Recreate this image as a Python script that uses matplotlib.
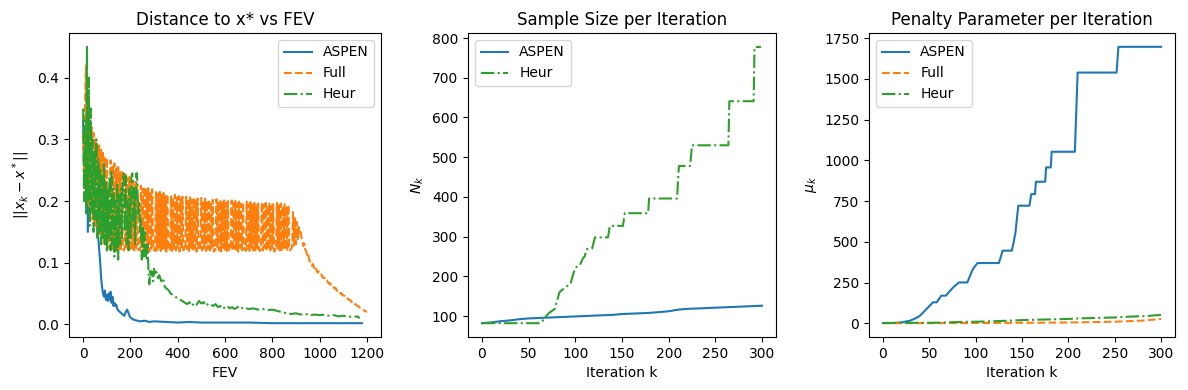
import numpy as np
import matplotlib
matplotlib.use("Agg")
import matplotlib.pyplot as plt

# ---------------- Panel 1 data: distance to x* vs FEV ----------------
# Full: one value per iteration (4 FEV per iteration)
full_dist = [
    0.31, 0.22, 0.36, 0.42, 0.21, 0.37, 0.19, 0.34, 0.18, 0.32, 0.17, 0.31, 0.16,
    # oscillation blocks
    0.300, 0.160, 0.292, 0.148, 0.290, 0.143, 0.283, 0.138, 0.280, 0.131, 0.272, 0.128, 0.270, 0.124, 0.126, 0.123,
    0.266, 0.124, 0.259, 0.121, 0.261, 0.125, 0.253, 0.119, 0.255, 0.122, 0.247, 0.120, 0.249, 0.123, 0.120, 0.124,
    0.243, 0.121, 0.238, 0.125, 0.239, 0.119, 0.232, 0.123, 0.233, 0.120, 0.226, 0.124, 0.228, 0.121, 0.123, 0.120,
    0.225, 0.123, 0.220, 0.119, 0.223, 0.124, 0.218, 0.121, 0.221, 0.118, 0.216, 0.123, 0.219, 0.120, 0.122, 0.119,
    0.216, 0.120, 0.212, 0.124, 0.215, 0.119, 0.210, 0.123, 0.213, 0.121, 0.208, 0.118, 0.211, 0.124, 0.119, 0.122,
    0.209, 0.119, 0.206, 0.123, 0.210, 0.120, 0.205, 0.124, 0.208, 0.118, 0.204, 0.122, 0.207, 0.120, 0.124, 0.121,
    0.207, 0.122, 0.203, 0.119, 0.206, 0.124, 0.202, 0.120, 0.205, 0.123, 0.201, 0.118, 0.204, 0.122, 0.120, 0.123,
    0.205, 0.120, 0.201, 0.124, 0.204, 0.119, 0.200, 0.122, 0.203, 0.120, 0.199, 0.124, 0.202, 0.118, 0.123, 0.120,
    0.203, 0.123, 0.199, 0.120, 0.202, 0.118, 0.198, 0.124, 0.201, 0.121, 0.197, 0.119, 0.200, 0.123, 0.119, 0.122,
    0.201, 0.119, 0.197, 0.123, 0.200, 0.121, 0.196, 0.118, 0.199, 0.124, 0.195, 0.120, 0.198, 0.122, 0.124, 0.119,
    0.199, 0.122, 0.195, 0.119, 0.198, 0.124, 0.194, 0.120, 0.197, 0.118, 0.193, 0.123, 0.196, 0.121, 0.119, 0.123,
    0.198, 0.120, 0.194, 0.124, 0.197, 0.119, 0.193, 0.122, 0.196, 0.120, 0.192, 0.124, 0.195, 0.118, 0.122, 0.120,
    0.197, 0.123, 0.193, 0.120, 0.196, 0.118, 0.192, 0.124, 0.195, 0.121, 0.191, 0.119, 0.194, 0.122, 0.120, 0.123,
    # decline
    0.125, 0.182, 0.128, 0.172, 0.130, 0.166, 0.138, 0.158, 0.146, 0.150,
    0.140, 0.135, 0.127, 0.131, 0.121, 0.118, 0.111, 0.114, 0.105, 0.102,
    0.100, 0.095, 0.098, 0.093, 0.089, 0.092, 0.087, 0.084, 0.086, 0.082,
    0.080, 0.081, 0.077, 0.075, 0.076, 0.072, 0.070, 0.071, 0.068, 0.066,
    0.067, 0.064, 0.062, 0.063, 0.060, 0.058, 0.059, 0.056, 0.054, 0.055,
    0.052, 0.050, 0.051, 0.048, 0.047, 0.047, 0.045, 0.043, 0.044, 0.041,
    0.040, 0.040, 0.038, 0.036, 0.037, 0.034, 0.033, 0.033, 0.031, 0.030,
    0.030, 0.028, 0.027, 0.027, 0.025, 0.024, 0.023, 0.022, 0.021, 0.020,
]
full_fev_per_iter = 4

aspen_fev = [0, 4, 8, 12, 16, 20, 24, 28, 32, 36, 40, 44, 48, 52, 56, 60, 64, 68, 72, 76,
             80, 84, 88, 92, 96, 100, 104, 108, 112, 116, 120, 124, 128, 132, 136, 140, 144,
             150, 156, 162, 168, 174, 180, 186, 192, 198, 204, 212, 220, 230, 240, 260, 280,
             300, 350, 400, 450, 500, 600, 700, 800, 900, 1000, 1100, 1180]
aspen_dist = [0.33, 0.25, 0.30, 0.20, 0.28, 0.15, 0.26, 0.20, 0.24, 0.19, 0.23, 0.17, 0.20,
              0.16, 0.18, 0.15, 0.14, 0.12, 0.10, 0.075, 0.06, 0.050, 0.045, 0.055, 0.040,
              0.048, 0.038, 0.050, 0.040, 0.053, 0.035, 0.045, 0.030, 0.035, 0.030, 0.032,
              0.025, 0.022, 0.020, 0.018, 0.016, 0.014, 0.020, 0.024, 0.018, 0.012, 0.010,
              0.008, 0.007, 0.006, 0.005, 0.006, 0.004, 0.005, 0.004, 0.003, 0.004, 0.003,
              0.003, 0.003, 0.002, 0.002, 0.002, 0.002, 0.002]

heur_fev = [0, 4, 8, 12, 16, 20, 24, 28, 32, 36, 40, 44, 48, 52, 56, 60, 64, 68, 72, 76,
            80, 84, 88, 92, 96, 100, 104, 108, 112, 116, 120, 124, 128, 132, 136, 140, 144,
            148, 152, 156, 160, 164, 168, 172, 176, 180, 184, 188, 192, 196, 200, 204, 208,
            212, 216, 220, 224, 228, 232, 236, 240, 244, 248, 252, 256, 260, 264, 268, 272,
            276, 280, 284, 288, 292, 296, 300, 304, 310, 316, 322, 330, 338, 346, 354, 362,
            370, 380, 390, 400, 410, 420, 430, 440, 450, 460, 470, 480, 490, 500, 510, 520,
            530, 540, 550, 560, 570, 580, 590, 600, 610, 620, 630, 640, 650, 660, 670, 680,
            690, 700, 720, 740, 760, 780, 800, 820, 840, 860, 880, 900, 920, 940, 960, 980,
            1000, 1020, 1040, 1060, 1080, 1100, 1120, 1140, 1160, 1170]
heur_dist = [0.35, 0.20, 0.33, 0.18, 0.45, 0.20, 0.40, 0.16, 0.35, 0.18, 0.30, 0.15, 0.28,
             0.17, 0.30, 0.14, 0.27, 0.15, 0.25, 0.13, 0.24, 0.14, 0.26, 0.13, 0.23, 0.12,
             0.22, 0.14, 0.24, 0.12, 0.25, 0.13, 0.22, 0.11, 0.20, 0.12, 0.23, 0.105, 0.21,
             0.13, 0.22, 0.14, 0.245, 0.245, 0.15, 0.24, 0.13, 0.20, 0.12, 0.22, 0.14, 0.24,
             0.245, 0.16, 0.22, 0.13, 0.245, 0.245, 0.18, 0.20, 0.15, 0.17, 0.105, 0.16, 0.11,
             0.15, 0.12, 0.105, 0.13, 0.09, 0.065, 0.09, 0.08, 0.085, 0.07, 0.09, 0.08, 0.085,
             0.075, 0.08, 0.07, 0.075, 0.06, 0.058, 0.055, 0.05, 0.048, 0.045, 0.042, 0.04,
             0.038, 0.035, 0.033, 0.036, 0.03, 0.035, 0.032, 0.038, 0.034, 0.036, 0.03, 0.034,
             0.032, 0.03, 0.033, 0.028, 0.03, 0.025, 0.028, 0.03, 0.026, 0.028, 0.025, 0.027,
             0.03, 0.027, 0.025, 0.026, 0.025, 0.026, 0.024, 0.025, 0.023, 0.024, 0.022, 0.02,
             0.018, 0.017, 0.018, 0.016, 0.017, 0.015, 0.016, 0.015, 0.016, 0.014, 0.015,
             0.013, 0.014, 0.013, 0.012, 0.013, 0.010]

# ---------------- Panel 2 data: sample size ----------------
aspen_N_iter = [0, 10, 20, 30, 40, 50, 60, 70, 80, 90, 100, 110, 120, 130, 140, 150, 160,
                170, 180, 190, 200, 210, 220, 230, 240, 250, 260, 270, 280, 290, 300]
aspen_N = [82, 84, 87, 89, 92, 94, 95, 96, 97, 98, 99, 100, 101, 102, 103, 105, 106, 107,
           108, 110, 112, 116, 118, 119, 120, 121, 122, 123, 124, 125, 126]

heur_N_iter = [0, 62, 65, 68, 72, 78, 80, 83, 88, 95, 97, 100, 105, 108, 110, 112, 118, 121,
               135, 137, 151, 153, 178, 179, 209, 210, 211, 223, 225, 264, 265, 291, 292, 299]
heur_N = [82, 82, 88, 98, 108, 118, 135, 160, 170, 182, 200, 222, 228, 245, 250, 268, 270,
          298, 298, 327, 327, 359, 359, 396, 396, 440, 478, 478, 530, 530, 641, 641, 777, 778]

# ---------------- Panel 3 data: penalty parameter ----------------
aspen_mu_iter = [0, 12, 20, 29, 35, 40, 47, 54, 58, 63, 68, 74, 77, 82, 91, 97, 102, 125,
                 127, 129, 139, 141, 143, 146, 158, 160, 164, 165, 175, 176, 181, 182, 207,
                 210, 252, 254, 300]
aspen_mu = [2, 2, 6, 16, 30, 47, 88, 129, 129, 170, 170, 210, 227, 251, 251, 333, 370, 370,
            405, 446, 446, 497, 560, 722, 722, 793, 793, 869, 869, 957, 957, 1053, 1053,
            1539, 1539, 1697, 1697]

full_mu_iter = [0, 100, 200, 250, 280, 300]
full_mu = [1, 2, 5, 10, 17, 27]

heur_mu_iter = [0, 60, 80, 100, 130, 150, 200, 215, 250, 265, 285, 295, 300]
heur_mu = [2, 4, 8, 10, 15, 20, 27, 31, 36, 41, 45, 50, 51]

# ---------------- Plot ----------------
fig = plt.figure(figsize=(11.88, 3.9), dpi=100)
W, H = 1188, 390
ax1 = fig.add_axes([69 / W, 53 / H, 312 / W, 304 / H])
ax2 = fig.add_axes([468 / W, 53 / H, 308 / W, 304 / H])
ax3 = fig.add_axes([869 / W, 53 / H, 306 / W, 304 / H])

full_fev = full_fev_per_iter * np.arange(len(full_dist))
ax1.plot(aspen_fev, aspen_dist, '-', color='C0', label='ASPEN')
ax1.plot(full_fev, full_dist, '--', color='C1', label='Full')
ax1.plot(heur_fev, heur_dist, '-.', color='C2', label='Heur')
ax1.set_title('Distance to x* vs FEV')
ax1.set_xlabel('FEV')
ax1.set_ylabel(r'$||x_k - x^*||$')
ax1.legend(loc='upper right')

ax2.plot(aspen_N_iter, aspen_N, '-', color='C0', label='ASPEN')
ax2.plot(heur_N_iter, heur_N, '-.', color='C2', label='Heur')
ax2.set_title('Sample Size per Iteration')
ax2.set_xlabel('Iteration k')
ax2.set_ylabel(r'$N_k$')
ax2.legend(loc='upper left')

ax3.plot(aspen_mu_iter, aspen_mu, '-', color='C0', label='ASPEN')
ax3.plot(full_mu_iter, full_mu, '--', color='C1', label='Full')
ax3.plot(heur_mu_iter, heur_mu, '-.', color='C2', label='Heur')
ax3.set_title('Penalty Parameter per Iteration')
ax3.set_xlabel('Iteration k')
ax3.set_ylabel(r'$\mu_k$')
ax3.legend(loc='upper left')

fig.savefig('out.png', dpi=100)
